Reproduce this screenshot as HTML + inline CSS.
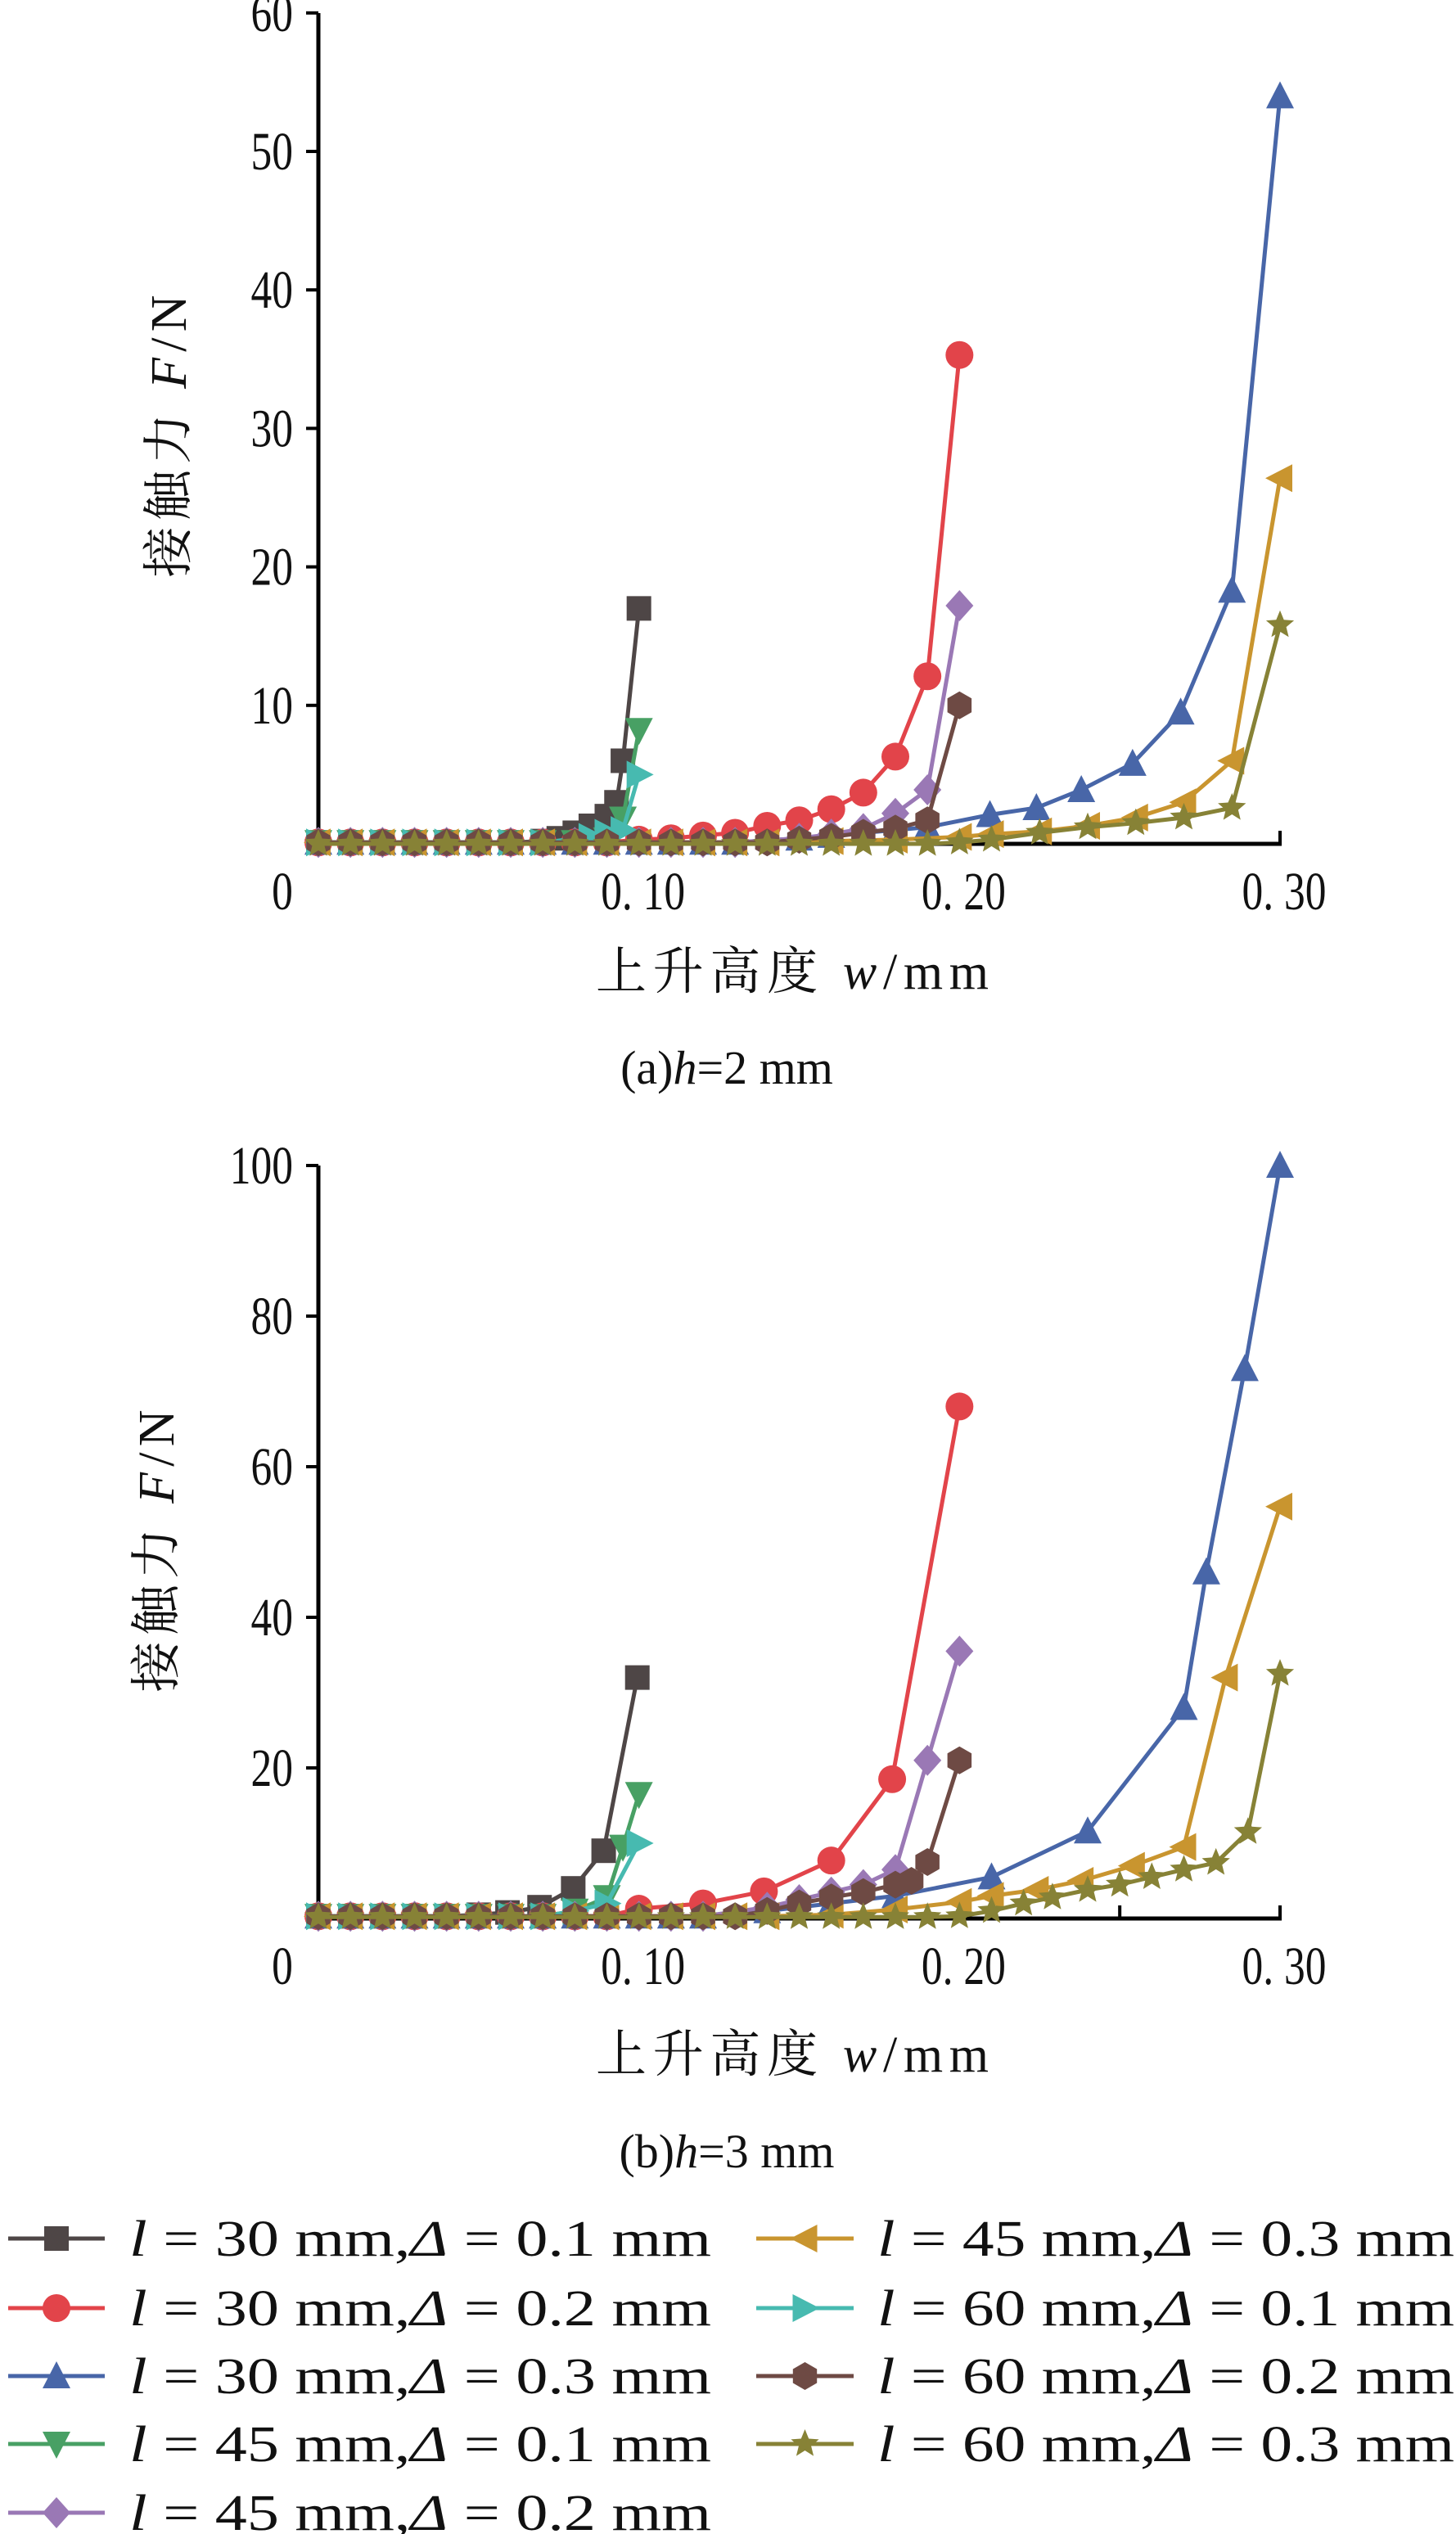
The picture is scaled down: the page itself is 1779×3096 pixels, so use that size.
<!DOCTYPE html>
<html><head><meta charset="utf-8"><style>
html,body{margin:0;padding:0;background:#fff;width:1779px;height:3096px;overflow:hidden}
svg{display:block}
text{font-family:"Liberation Serif","Noto Serif CJK SC","Noto Sans CJK SC",serif;fill:#111}
</style></head><body>
<svg id="s" width="1779" height="3096" xmlns="http://www.w3.org/2000/svg"></svg>
<script>
const S=document.getElementById('s');let h='';
const C={k:'#4e4646',r:'#e2444a',b:'#4866a8',g:'#48a064',p:'#9a78b5',o:'#c9952f',t:'#47bab0',n:'#6e4a44',v:'#878236'};
function mk(type,x,y,c){const r=15;
 if(type=='sq')return `<rect x="${x-r}" y="${y-r}" width="${2*r}" height="${2*r}" fill="${c}"/>`;
 if(type=='ci')return `<circle cx="${x}" cy="${y}" r="${r+2}" fill="${c}"/>`;
 if(type=='tu')return `<polygon points="${x},${y-r-3} ${x+r+2},${y+r} ${x-r-2},${y+r}" fill="${c}"/>`;
 if(type=='td')return `<polygon points="${x},${y+r+3} ${x+r+2},${y-r} ${x-r-2},${y-r}" fill="${c}"/>`;
 if(type=='tl')return `<polygon points="${x-r-3},${y} ${x+r},${y-r-2} ${x+r},${y+r+2}" fill="${c}"/>`;
 if(type=='tr')return `<polygon points="${x+r+3},${y} ${x-r},${y-r-2} ${x-r},${y+r+2}" fill="${c}"/>`;
 if(type=='di')return `<polygon points="${x},${y-r-4} ${x+r+2},${y} ${x},${y+r+4} ${x-r-2},${y}" fill="${c}"/>`;
 if(type=='hx'){let p=[];for(let i=0;i<6;i++){let a=Math.PI/3*i+Math.PI/6;p.push((x+17*Math.cos(a)).toFixed(1)+','+(y+17*Math.sin(a)).toFixed(1));}return `<polygon points="${p.join(' ')}" fill="${c}"/>`;}
 if(type=='st'){let p=[];for(let i=0;i<10;i++){let a=-Math.PI/2+Math.PI/5*i,rr=i%2?8:18;p.push((x+rr*Math.cos(a)).toFixed(1)+','+(y+rr*Math.sin(a)).toFixed(1));}return `<polygon points="${p.join(' ')}" fill="${c}"/>`;}
}
function base(from,to,v){let a=[];for(let x=0.0;x<from-1e-6;x+=0.01)a.push([x,v]);return a;}
function series(X,Y,pts,type,c){let d=pts.map((p,i)=>(i?'L':'M')+X(p[0]).toFixed(1)+','+Y(p[1]).toFixed(1)).join('');
 h+=`<path d="${d}" fill="none" stroke="${c}" stroke-width="5"/>`;pts.forEach(p=>h+=mk(type,X(p[0]),Y(p[1]),c));}
function tl(x,y,s,anchor){return `<text transform="translate(${x},${y}) scale(0.78,1)" font-size="66" text-anchor="${anchor}">${s}</text>`;}
function axes(X,Y0,Ytop,yt,Yf,ticksX){
 h+=`<line x1="389" y1="${Ytop}" x2="389" y2="${Y0}" stroke="#000" stroke-width="5"/><line x1="386" y1="${Y0}" x2="1566" y2="${Y0}" stroke="#000" stroke-width="5"/>`;
 yt.forEach(v=>{let y=Yf(v);h+=`<line x1="374" y1="${y}" x2="389" y2="${y}" stroke="#000" stroke-width="4"/>`+tl(358,y+22,v,'end');});
 ticksX.forEach(v=>{h+=`<line x1="${X(v)}" y1="${Y0}" x2="${X(v)}" y2="${Y0-16}" stroke="#000" stroke-width="4"/>`;});
 h+=tl(345,Y0+80,'0','middle');
 [['0. 10',0.1],['0. 20',0.2],['0. 30',0.3]].forEach(a=>h+=tl(X(a[1])+5,Y0+80,a[0],'middle'));
}
const X=x=>389+x/0.3*1175;
const Ya=y=>1031-y*16.92;
axes(X,1031,16,[10,20,30,40,50,60],Ya,[0.1,0.2,0.3]);
const z=0.1;
series(X,Ya,[...base(0.07,0,z),[0.07,0.2],[0.075,0.4],[0.08,0.8],[0.085,1.3],[0.09,2],[0.093,3],[0.095,6],[0.1,17]],'sq',C.k);
series(X,Ya,[...base(0.1,0,z),[0.1,0.3],[0.11,0.4],[0.12,0.6],[0.13,0.8],[0.14,1.3],[0.15,1.7],[0.16,2.5],[0.17,3.7],[0.18,6.3],[0.19,12.1],[0.2,35.3]],'ci',C.r);
series(X,Ya,[...base(0.14,0,z),[0.15,0.4],[0.16,0.6],[0.17,0.8],[0.18,1],[0.19,1.2],[0.2095,2.1],[0.224,2.6],[0.238,3.9],[0.254,5.8],[0.269,9.5],[0.285,18.3],[0.3,54]],'tu',C.b);
series(X,Ya,[...base(0.09,0,z),[0.09,0.3],[0.095,1.8],[0.1,8.2]],'td',C.g);
series(X,Ya,[...base(0.14,0,z),[0.15,0.4],[0.16,0.7],[0.17,1.1],[0.18,2.2],[0.19,3.9],[0.2,17.2]],'di',C.p);
series(X,Ya,[...base(0.15,0,z),[0.16,0.2],[0.18,0.3],[0.2,0.5],[0.21,0.7],[0.225,0.9],[0.24,1.3],[0.255,1.9],[0.27,3],[0.285,6],[0.3,26.4]],'tl',C.o);
series(X,Ya,[...base(0.08,0,z),[0.085,0.5],[0.09,0.8],[0.095,1.0],[0.1,5]],'tr',C.t);
series(X,Ya,[...base(0.15,0,z),[0.15,0.3],[0.16,0.5],[0.17,0.8],[0.18,1.1],[0.19,1.7],[0.2,10]],'hx',C.n);
series(X,Ya,[...base(0.2,0,0),[0.2,0.1],[0.21,0.3],[0.225,0.8],[0.24,1.2],[0.255,1.5],[0.27,1.9],[0.285,2.6],[0.3,15.8]],'st',C.v);
h+=`<text x="968" y="1208" font-size="62" text-anchor="middle" textLength="480">上升高度 <tspan font-style="italic">w</tspan>/mm</text>`;
h+=`<text transform="translate(227,533) rotate(-90)" font-size="62" text-anchor="middle" textLength="345">接触力 <tspan font-style="italic">F</tspan>/N</text>`;
h+=`<text x="888" y="1324" font-size="58" text-anchor="middle">(a)<tspan font-style="italic">h</tspan>=2 mm</text>`;
const Yb=y=>2344-y*9.2;
axes(X,2344,1424,[20,40,60,80,100],Yb,[0.05,0.1,0.15,0.2,0.25,0.3]);
const zb=0.3;
series(X,Yb,[...base(0.05,0,zb),[0.05,0.5],[0.059,0.8],[0.069,1.5],[0.0795,4],[0.089,9],[0.0995,32]],'sq',C.k);
series(X,Yb,[...base(0.1,0,zb),[0.1,1.3],[0.12,2],[0.139,3.6],[0.16,7.7],[0.179,18.5],[0.2,68]],'ci',C.r);
series(X,Yb,[...base(0.13,0,zb),[0.14,1],[0.16,2],[0.18,3],[0.21,5.5],[0.24,11.6],[0.27,28],[0.277,46],[0.289,73],[0.3,100]],'tu',C.b);
series(X,Yb,[...base(0.08,0,zb),[0.08,1],[0.09,2.8],[0.095,9.5],[0.1,16.5]],'td',C.g);
series(X,Yb,[...base(0.13,0,zb),[0.14,1.5],[0.15,2.5],[0.16,3.5],[0.17,4.5],[0.18,6.5],[0.19,21],[0.2,35.5]],'di',C.p);
series(X,Yb,[...base(0.15,0,zb),[0.16,0.5],[0.18,1.2],[0.2,2.2],[0.21,3],[0.224,3.8],[0.238,5],[0.254,7],[0.27,9.5],[0.283,32],[0.3,54.7]],'tl',C.o);
series(X,Yb,[...base(0.08,0,zb),[0.08,1],[0.09,2],[0.1,10]],'tr',C.t);
series(X,Yb,[...base(0.14,0,zb),[0.14,1],[0.15,2],[0.16,2.8],[0.17,3.5],[0.18,4.5],[0.185,5],[0.19,7.5],[0.2,21]],'hx',C.n);
series(X,Yb,[...base(0.2,0,0.2),[0.2,0.3],[0.21,1],[0.22,2],[0.229,2.8],[0.24,3.8],[0.25,4.5],[0.26,5.5],[0.27,6.5],[0.28,7.4],[0.29,11.5],[0.3,32.5]],'st',C.v);
h+=`<text x="968" y="2531" font-size="62" text-anchor="middle" textLength="480">上升高度 <tspan font-style="italic">w</tspan>/mm</text>`;
h+=`<text transform="translate(212,1895) rotate(-90)" font-size="62" text-anchor="middle" textLength="345">接触力 <tspan font-style="italic">F</tspan>/N</text>`;
h+=`<text x="888" y="2648" font-size="58" text-anchor="middle">(b)<tspan font-style="italic">h</tspan>=3 mm</text>`;
const L=[['30','0.1','sq',C.k],['30','0.2','ci',C.r],['30','0.3','tu',C.b],['45','0.1','td',C.g],['45','0.2','di',C.p],['45','0.3','tl',C.o],['60','0.1','tr',C.t],['60','0.2','hx',C.n],['60','0.3','st',C.v]];
const rows=[2735,2820,2903,2986,3070];
L.forEach((e,i)=>{let col=i<5?0:1,y=rows[col?i-5:i];let x0=col?924:10,x1=col?1043:128,tx=col?1072:158;
 h+=`<line x1="${x0}" y1="${y}" x2="${x1}" y2="${y}" stroke="${e[3]}" stroke-width="5"/>`+mk(e[2],(x0+x1)/2,y,e[3]);
 h+=`<text x="${tx}" y="${y+21}" font-size="62" textLength="${col?705:711}" lengthAdjust="spacingAndGlyphs"><tspan font-style="italic">l</tspan> = ${e[0]} mm,<tspan font-style="italic">Δ</tspan> = ${e[1]} mm</text>`;});
S.innerHTML=h;
</script>
</body></html>
